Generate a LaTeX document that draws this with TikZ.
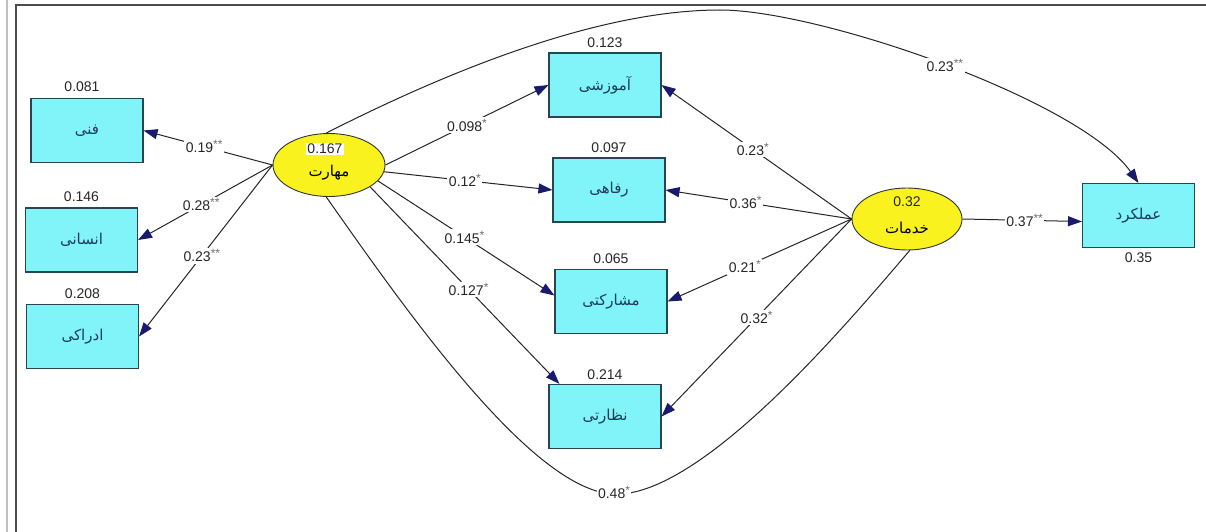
\documentclass[tikz,border=0pt]{standalone}
\usepackage{fontspec}
\setmainfont{Liberation Sans}
\newfontfamily\arabicfont[Script=Arabic]{DejaVu Sans}
\TeXXeTstate=1
\usetikzlibrary{arrows.meta,shapes.geometric}
\definecolor{boxfill}{RGB}{128,244,248}
\definecolor{boxdraw}{RGB}{40,70,80}
\definecolor{ellfill}{RGB}{250,242,30}
\definecolor{arrowblue}{RGB}{25,25,110}
\definecolor{txtblue}{RGB}{30,60,90}
\definecolor{stargray}{RGB}{110,110,110}
\newcommand{\fa}[1]{{\arabicfont\beginR #1\endR}}
\newcommand{\st}[1]{\raisebox{4pt}{\color{stargray}\fontsize{12}{12}\selectfont #1}}
\begin{document}
\begin{tikzpicture}[x=1pt,y=-1pt,
  obs/.style={draw=boxdraw, line width=1.1pt, fill=boxfill, minimum width=112pt, minimum height=64pt, inner sep=0pt, text=txtblue, font=\fontsize{15}{15}\selectfont},
  lat/.style={ellipse, draw=black!80, line width=0.9pt, fill=ellfill, minimum width=112pt, minimum height=63pt, inner sep=0pt},
  num/.style={font=\fontsize{14}{14}\selectfont, inner sep=0pt, text=black!85},
  lbl/.style={font=\fontsize{14}{14}\selectfont, fill=white, inner sep=1.5pt, text=black!85},
  arr/.style={draw=black!85, line width=1pt, -{Triangle[length=14pt,width=10pt,color=arrowblue]}},
  lnk/.style={draw=black!85, line width=1pt}
]
\fill[white] (0,0) rectangle (1206,532);
\useasboundingbox (0,0) rectangle (1206,532);
\draw[line width=2pt, black!25] (7,0) -- (7,532);
\draw[line width=2pt, black!70] (15.5,5) -- (1206,5);
\draw[line width=2pt, black!70] (15.5,4) -- (15.5,532);

% observed variables
\node[obs] (f) at (87,130.5) {\fa{فنی}};
\node[obs] (e) at (81.5,240) {\fa{انسانی}};
\node[obs] (d) at (82.5,336.5) {\fa{ادراکی}};
\node[obs] (a) at (605,85) {\fa{آموزشی}};
\node[obs] (r) at (609,190) {\fa{رفاهی}};
\node[obs] (p) at (611,301.5) {\fa{مشارکتی}};
\node[obs] (n) at (605,416.5) {\fa{نظارتی}};
\node[obs] (o) at (1138.5,215.5) {\fa{عملکرد}};

% latent variables
\node[lat] (m) at (329,165) {};
\node[lat, minimum width=110pt, minimum height=62pt] (k) at (907,219) {};

% numbers
\node[num] (nf) at ([xshift=-5pt,yshift=11pt]f.north) {0.081};
\node[num] (ne) at ([yshift=11pt]e.north) {0.146};
\node[num] (nd) at ([yshift=10pt]d.north) {0.208};
\node[num] (na) at ([yshift=10pt]a.north) {0.123};
\node[num] (nr) at ([yshift=10pt]r.north) {0.097};
\node[num] (np) at ([yshift=10pt]p.north) {0.065};
\node[num] (nn) at ([yshift=9pt]n.north) {0.214};
\node[num] (no) at ([yshift=-10pt]o.south) {0.35};
\node[num, fill=white, inner sep=1.5pt] (nm) at ([xshift=-4pt,yshift=16pt]m.center) {0.167};
\node[font=\fontsize{15}{15}\selectfont, inner sep=0pt] (tm) at ([yshift=-8pt]m.center) {\fa{مهارت}};
\node[num] (nk) at ([yshift=17pt]k.center) {0.32};
\node[font=\fontsize{15}{15}\selectfont, inner sep=0pt] (tk) at ([yshift=-9pt]k.center) {\fa{خدمات}};

% paths from maharat
\draw[arr] (m.west) -- node[lbl,pos=0.53]{0.19\st{**}} (f.east);
\draw[arr] (m.west) -- node[lbl,pos=0.53]{0.28\st{**}} (e.east);
\draw[arr] (m.west) -- node[lbl,pos=0.53]{0.23\st{**}} (d.east);
\draw[arr] (m.east) -- node[lbl,pos=0.5]{0.098\st{*}} (a.west);
\draw[arr] (m.-7) -- node[lbl,pos=0.48]{0.12\st{*}} (r.west);
\draw[arr] (m.-18) -- node[lbl,pos=0.49]{0.145\st{*}} ([yshift=6pt]p.west);
\draw[arr] (m.-28) -- node[lbl,pos=0.52]{0.127\st{*}} ([xshift=11pt]n.north west);

% paths from khadamat
\draw[arr] (k.west) -- node[lbl,pos=0.52]{0.23\st{*}} (a.east);
\draw[arr] (k.west) -- node[lbl,pos=0.57]{0.36\st{*}} (r.east);
\draw[arr] (k.west) -- node[lbl,pos=0.58]{0.21\st{*}} (p.east);
\draw[arr] (k.west) -- node[lbl,pos=0.5]{0.32\st{*}} (n.east);
\draw[arr] (k.east) -- node[lbl,pos=0.52]{0.37\st{**}} ([yshift=-6pt]o.west);

% curved paths
\coordinate (top) at (720,10);
\coordinate (bot) at (612,494);
\draw[arr] (m.95) .. controls (470,60) and (610,10) .. (top) .. controls (820,10) and (1080,100) .. node[lbl,pos=0.5]{0.23\st{**}} (o.north);
\draw[lnk] (m.-95) .. controls (405,309) and (530,488) .. (bot) .. controls (700,500) and (850,320) .. (k.-85);
\node[lbl] (l48) at ([xshift=2pt,yshift=2pt]bot) {0.48\st{*}};
\end{tikzpicture}
\end{document}
